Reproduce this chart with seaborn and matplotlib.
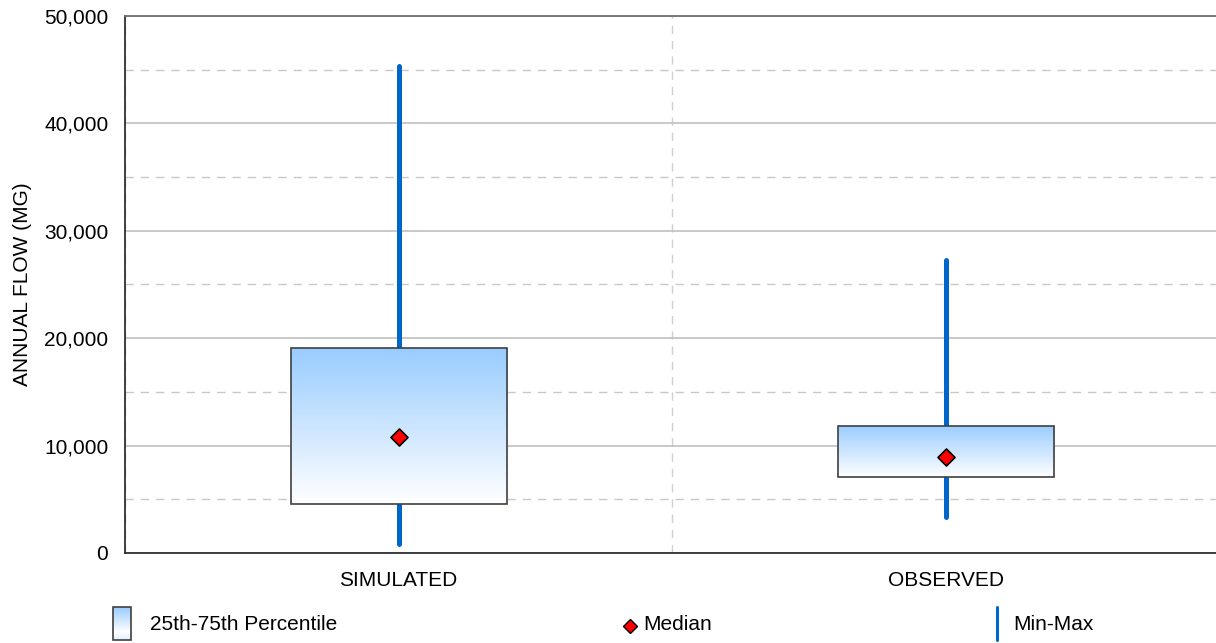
import numpy as np
import matplotlib
matplotlib.use("Agg")
import matplotlib.pyplot as plt
import seaborn as sns
from matplotlib.colors import LinearSegmentedColormap
from matplotlib.ticker import FuncFormatter, MultipleLocator, FixedLocator
from matplotlib.patches import Rectangle
from matplotlib.lines import Line2D

# ---- data ----
categories = ["SIMULATED", "OBSERVED"]
min_vals = [800, 3350]
q1_vals = [4560, 7100]
median_vals = [10800, 8940]
q3_vals = [19060, 11850]
max_vals = [45350, 27300]

legend_labels = ["25th-75th Percentile", "Median", "Min-Max"]

sns.set_style("white")
plt.rcParams["font.family"] = ["Liberation Sans", "DejaVu Sans"]
plt.rcParams["font.size"] = 15
plt.rcParams["text.color"] = "black"
plt.rcParams["axes.labelcolor"] = "black"
plt.rcParams["xtick.color"] = "black"
plt.rcParams["ytick.color"] = "black"

FS = 15
blue_line = "#0066CC"
grad = LinearSegmentedColormap.from_list("boxgrad", ["#FFFFFF", "#99CCFF"])

fig = plt.figure(figsize=(12.16, 6.43), dpi=100)
ax = fig.add_axes([125 / 1216, 1 - 553 / 643, 1094.5 / 1216, 537 / 643])

x = np.arange(len(categories))
box_w = 0.395

# whiskers (min-max) behind the boxes
ax.vlines(x, min_vals, max_vals, color=blue_line, linewidth=3.6,
          capstyle="round", zorder=2)

# boxes with vertical gradient
bars = ax.bar(x, np.array(q3_vals) - np.array(q1_vals), bottom=q1_vals,
              width=box_w, facecolor="none", edgecolor="#404040",
              linewidth=1.2, zorder=4)
for i, b in enumerate(bars):
    img = ax.imshow(np.linspace(1, 0, 256).reshape(-1, 1), cmap=grad,
                    aspect="auto", origin="upper",
                    extent=[x[i] - box_w / 2, x[i] + box_w / 2, q1_vals[i], q3_vals[i]],
                    zorder=3)
    img.set_clip_path(b)

# medians
sns.scatterplot(x=x, y=median_vals, marker="D", s=75, color="#FF0000",
                edgecolor="black", linewidth=1.2, zorder=5, ax=ax, legend=False)

ax.set_xlim(-0.5, 1.5)
ax.set_ylim(0, 50000)

ax.yaxis.set_major_locator(MultipleLocator(10000))
ax.yaxis.set_minor_locator(MultipleLocator(5000))
ax.yaxis.set_major_formatter(FuncFormatter(lambda v, p: f"{int(v):,}"))
ax.set_xticks(x)
ax.set_xticklabels(categories)
ax.xaxis.set_minor_locator(FixedLocator([-0.5, 0.5, 1.5]))

ax.tick_params(axis="y", which="both", direction="out", length=6, width=1,
               color="#404040", labelcolor="black", pad=6, labelsize=FS)
ax.tick_params(axis="x", which="major", length=0, pad=13, labelsize=FS,
               labelcolor="black")
ax.tick_params(axis="x", which="minor", direction="out", length=6, width=1,
               color="#404040")

ax.grid(axis="y", which="major", color="#C0C0C0", linewidth=1.2, linestyle="-", zorder=0)
ax.grid(axis="y", which="minor", color="#C8C8C8", linewidth=1, linestyle=(0, (6, 5)), zorder=0)
ax.grid(axis="x", which="minor", color="#D0D0D0", linewidth=1, linestyle=(0, (6, 5)), zorder=0)
ax.set_axisbelow(True)

for side in ["left", "bottom"]:
    ax.spines[side].set_color("#303030")
    ax.spines[side].set_linewidth(1.3)
ax.spines["top"].set_color("#707070")
ax.spines["top"].set_linewidth(1.3)
ax.spines["right"].set_visible(False)

ax.set_ylabel("ANNUAL FLOW (MG)", fontsize=FS, color="black", labelpad=9)

# ---- legend row below the plot ----
lg = fig.add_axes([0, 0, 1, 1], facecolor="none")
lg.set_xlim(0, 1216)
lg.set_ylim(643, 0)
lg.axis("off")

lg.imshow(np.concatenate([np.linspace(1, 0, 64), np.linspace(0, 0.3, 20)]).reshape(-1, 1),
          cmap=grad, aspect="auto", extent=[113, 131, 640, 607], zorder=2)
lg.add_patch(Rectangle((113, 607), 18, 33, facecolor="none", edgecolor="#404040",
                       linewidth=1.2, zorder=3))
lg.text(150, 624, legend_labels[0], fontsize=FS, va="center", ha="left")

lg.add_line(Line2D([630], [626], marker="D", markersize=7, color="#FF0000",
                   markeredgecolor="black", markeredgewidth=1))
lg.text(643, 624, legend_labels[1], fontsize=FS, va="center", ha="left")

lg.add_line(Line2D([997, 997], [607, 640], color=blue_line, linewidth=2.2))
lg.text(1013, 624, legend_labels[2], fontsize=FS, va="center", ha="left")

fig.savefig("out.png", dpi=100)
